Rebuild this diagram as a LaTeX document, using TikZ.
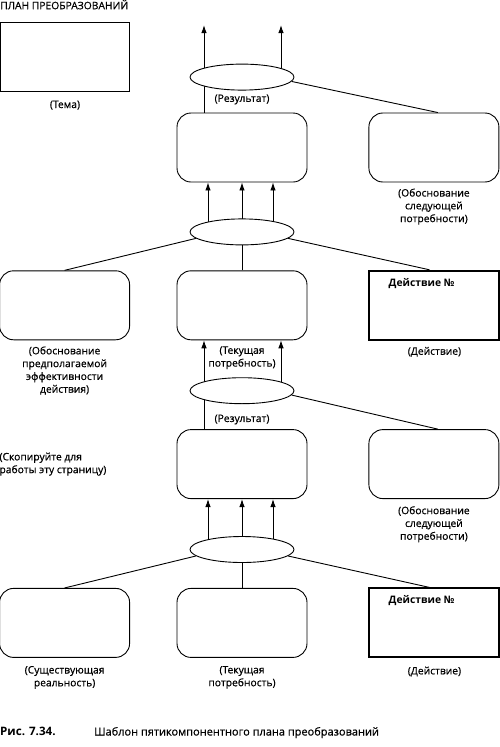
\documentclass[tikz,border=0pt]{standalone}
\usepackage{fontspec}
\setmainfont{Open Sans}[UprightFeatures={FakeBold=0.6}]
\usetikzlibrary{positioning, arrows.meta, shapes.geometric, backgrounds}
\tikzstyle{theme} = [rectangle, line width=0.9pt, minimum width=129pt, minimum height=69pt, draw=black]
\tikzstyle{stage} = [rectangle, rounded corners=14pt, line width=0.9pt, minimum width=130pt, minimum height=69pt, draw=black, fill=white]
\tikzstyle{action} = [rectangle, line width=2pt, minimum width=130pt, minimum height=69pt, draw=black, fill=white]
\tikzstyle{junction} = [ellipse, line width=0.9pt, minimum width=104pt, minimum height=26pt, inner sep=0pt, draw=black, fill=white]
\tikzstyle{note} = [inner sep=0pt, align=center, font=\fontsize{10.3}{12.8}\selectfont]
\tikzstyle{arrow} = [line width=0.9pt, ->, >={Latex[length=8pt,width=5.5pt]}]
\tikzstyle{link} = [line width=0.9pt]

\begin{document}
\begin{tikzpicture}
    \useasboundingbox (0,0) rectangle (500pt,-747pt);
    \node (T) [theme] at (65pt,-56.5pt) {};
    \node (title) [note, above right=12pt and 0pt of T.north west] {ПЛАН ПРЕОБРАЗОВАНИЙ};
    \node (Tn) [note, below=9pt of T] {(Тема)};
    \node (C1) [stage] at (242pt,-147.5pt) {};
    \node (E1) [junction, above=22pt of C1] {};
    \node (R1) [stage, right=61pt of C1] {};
    \node (res1) [note, above=8pt of C1] {(Результат)};
    \node (R1n) [note, below=6pt of R1] {(Обоснование\\следующей\\потребности)};
    \node (E2) [junction, below=36pt of C1] {};
    \node (C2) [stage, below=25pt of E2] {};
    \node (L2) [stage, left=46.5pt of C2] {};
    \node (R2) [action, right=61pt of C2] {};
    \node (R2t) [note, anchor=north west, font=\fontsize{10.3}{12.8}\selectfont\bfseries]
      at ([xshift=20pt,yshift=-8pt]R2.north west) {Действие №};
    \node (L2n) [note, below=6pt of L2] {(Обоснование\\предполагаемой\\эффективности\\действия)};
    \node (C2n) [note, below=6pt of C2] {(Текущая\\потребность)};
    \node (R2n) [note, below=6pt of R2] {(Действие)};
    \node (E3) [junction, below=37pt of C2] {};
    \node (C3) [stage, below=25pt of E3] {};
    \node (R3) [stage, right=61pt of C3] {};
    \node (res2) [note, above=4.5pt of C3] {(Результат)};
    \node (copy) [note, align=left, left=70pt of C3] {(Скопируйте для\\работы эту страницу)};
    \node (R3n) [note, below=7pt of R3] {(Обоснование\\следующей\\потребности)};
    \node (E4) [junction, below=37pt of C3] {};
    \node (C4) [stage, below=25pt of E4] {};
    \node (L4) [stage, left=46.5pt of C4] {};
    \node (R4) [action, right=61pt of C4] {};
    \node (R4t) [note, anchor=north west, font=\fontsize{10.3}{12.8}\selectfont\bfseries]
      at ([xshift=20pt,yshift=-8pt]R4.north west) {Действие №};
    \node (L4n) [note, below=8pt of L4] {(Существующая\\реальность)};
    \node (C4n) [note, below=8pt of C4] {(Текущая\\потребность)};
    \node (R4n) [note, below=8pt of R4] {(Действие)};
    \node (fig) [note, anchor=base west, font=\fontsize{11.6}{13}\selectfont\bfseries] at (0,-735.5pt) {Рис. 7.34.};
    \node (figtext) [note, anchor=base west, font=\fontsize{11}{13}\selectfont]
      at ([xshift=94pt]fig.base west) {Шаблон пятикомпонентного плана преобразований};
    \coordinate (out1) at ([xshift=-38pt,yshift=52pt]E1.center);
    \coordinate (out2) at ([xshift=39pt,yshift=52pt]E1.center);
    \begin{scope}[on background layer]
      % upper half
      \draw [arrow] (out1 |- C1.north) -- (out1);
      \draw [arrow] (out2 |- E1.center) -- (out2);
      \draw [link] (E1.355) -- ([xshift=4pt]R1.north);
      \draw [arrow] ([xshift=-34pt]E2.center) -- ([xshift=-34pt]C1.south);
      \draw [arrow] (C2.north) -- (C1.south);
      \draw [arrow] ([xshift=31pt]E2.center) -- ([xshift=31pt]C1.south);
      \draw [link] (E2.188) -- (L2.north);
      \draw [link] (E2.352) -- ([xshift=-5pt]R2.north);
      % lower half
      \draw [arrow] ([xshift=-38pt]C3.north) -- ([xshift=-38pt]C2.south);
      \draw [arrow] ([xshift=39pt]E3.center) -- ([xshift=39pt]C2.south);
      \draw [link] (E3.355) -- ([xshift=4pt]R3.north);
      \draw [arrow] ([xshift=-34pt]E4.center) -- ([xshift=-34pt]C3.south);
      \draw [arrow] (C4.north) -- (C3.south);
      \draw [arrow] ([xshift=31pt]E4.center) -- ([xshift=31pt]C3.south);
      \draw [link] (E4.188) -- (L4.north);
      \draw [link] (E4.352) -- ([xshift=-5pt]R4.north);
    \end{scope}
\end{tikzpicture}
\end{document}
